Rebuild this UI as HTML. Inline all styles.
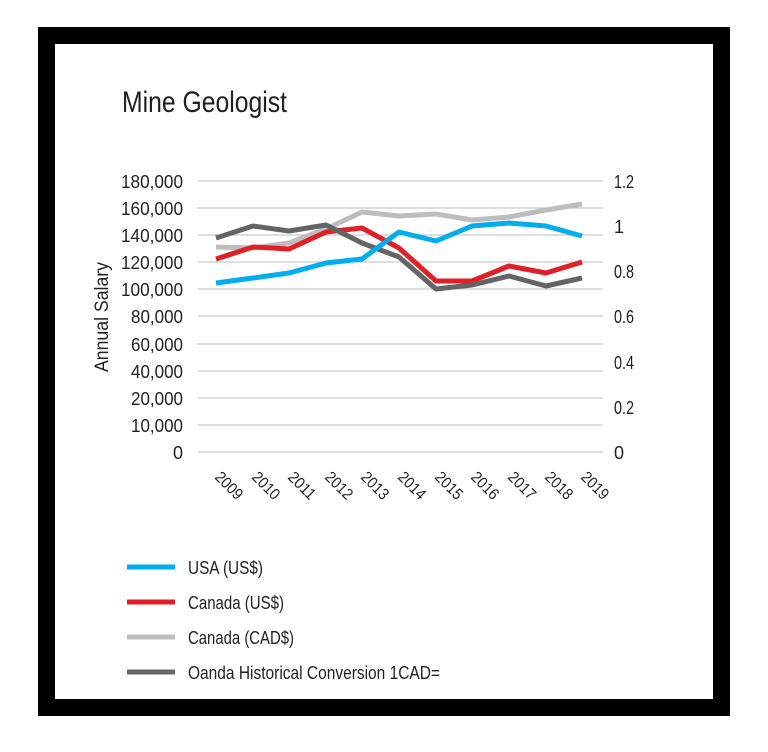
<!DOCTYPE html>
<html><head><meta charset="utf-8"><style>
html,body{margin:0;padding:0;background:#fff}
svg{display:block}
text{font-family:"Liberation Sans Narrow","Liberation Sans",sans-serif;fill:#231f20}
</style></head><body>
<svg width="768" height="752" viewBox="0 0 768 752">
<rect x="0" y="0" width="768" height="752" fill="#fff"/>
<rect x="38" y="27" width="692" height="689" fill="#000"/>
<rect x="55" y="44" width="658" height="655" fill="#fff"/>
<text x="122" y="112" font-size="30" font-weight="bold" textLength="165" lengthAdjust="spacingAndGlyphs" style="font-weight:500">Mine Geologist</text>
<g stroke="#bcbcbc" stroke-width="1">
<line x1="198" x2="603" y1="181" y2="181"/><line x1="198" x2="603" y1="208" y2="208"/>
<line x1="198" x2="603" y1="235" y2="235"/><line x1="198" x2="603" y1="262" y2="262"/>
<line x1="198" x2="603" y1="289" y2="289"/><line x1="198" x2="603" y1="316" y2="316"/>
<line x1="198" x2="603" y1="344" y2="344"/><line x1="198" x2="603" y1="371" y2="371"/>
<line x1="198" x2="603" y1="398" y2="398"/><line x1="198" x2="603" y1="425" y2="425"/>
<line x1="198" x2="603" y1="452" y2="452"/>
</g>
<g font-size="18" text-anchor="end">
<text x="183" y="188" textLength="62" lengthAdjust="spacingAndGlyphs">180,000</text>
<text x="183" y="215" textLength="62" lengthAdjust="spacingAndGlyphs">160,000</text>
<text x="183" y="242" textLength="62" lengthAdjust="spacingAndGlyphs">140,000</text>
<text x="183" y="269" textLength="62" lengthAdjust="spacingAndGlyphs">120,000</text>
<text x="183" y="296" textLength="62" lengthAdjust="spacingAndGlyphs">100,000</text>
<text x="183" y="323" textLength="52" lengthAdjust="spacingAndGlyphs">80,000</text>
<text x="183" y="351" textLength="52" lengthAdjust="spacingAndGlyphs">60,000</text>
<text x="183" y="378" textLength="52" lengthAdjust="spacingAndGlyphs">40,000</text>
<text x="183" y="405" textLength="52" lengthAdjust="spacingAndGlyphs">20,000</text>
<text x="183" y="432" textLength="52" lengthAdjust="spacingAndGlyphs">10,000</text>
<text x="183" y="459">0</text>
</g>
<g font-size="18">
<text x="614" y="188" textLength="20" lengthAdjust="spacingAndGlyphs">1.2</text><text x="614" y="233">1</text>
<text x="614" y="278" textLength="20" lengthAdjust="spacingAndGlyphs">0.8</text><text x="614" y="323" textLength="20" lengthAdjust="spacingAndGlyphs">0.6</text>
<text x="614" y="369" textLength="20" lengthAdjust="spacingAndGlyphs">0.4</text><text x="614" y="414" textLength="20" lengthAdjust="spacingAndGlyphs">0.2</text>
<text x="614" y="459">0</text>
</g>
<text transform="translate(108,317) rotate(-90)" font-size="19" text-anchor="middle" textLength="110" lengthAdjust="spacingAndGlyphs">Annual Salary</text>
<g font-size="16">
<text transform="translate(214,478) rotate(45)" textLength="32" lengthAdjust="spacingAndGlyphs">2009</text>
<text transform="translate(251,478) rotate(45)" textLength="32" lengthAdjust="spacingAndGlyphs">2010</text>
<text transform="translate(287,478) rotate(45)" textLength="32" lengthAdjust="spacingAndGlyphs">2011</text>
<text transform="translate(324,478) rotate(45)" textLength="32" lengthAdjust="spacingAndGlyphs">2012</text>
<text transform="translate(360,478) rotate(45)" textLength="32" lengthAdjust="spacingAndGlyphs">2013</text>
<text transform="translate(397,478) rotate(45)" textLength="32" lengthAdjust="spacingAndGlyphs">2014</text>
<text transform="translate(434,478) rotate(45)" textLength="32" lengthAdjust="spacingAndGlyphs">2015</text>
<text transform="translate(470,478) rotate(45)" textLength="32" lengthAdjust="spacingAndGlyphs">2016</text>
<text transform="translate(507,478) rotate(45)" textLength="32" lengthAdjust="spacingAndGlyphs">2017</text>
<text transform="translate(544,478) rotate(45)" textLength="32" lengthAdjust="spacingAndGlyphs">2018</text>
<text transform="translate(580,478) rotate(45)" textLength="32" lengthAdjust="spacingAndGlyphs">2019</text>
</g>
<g fill="none" stroke-width="5" stroke-linejoin="round" stroke-linecap="butt">
<polyline stroke="#bdbdbd" points="216,247 253,248 289,243 326,229 362,212 399,216 436,214 472,220 509,217 546,210 582,204"/>
<polyline stroke="#e01f26" points="216,259 253,247 289,249 326,232 362,228 399,248 436,281 472,281 509,266 546,273 582,262"/>
<polyline stroke="#636466" points="216,238 253,226 289,231 326,225 362,243 399,257 436,289 472,285 509,276 546,286 582,278"/>
<polyline stroke="#00aeef" points="216,283 253,278 289,273 326,263 362,259 399,232 436,241 472,226 509,223 546,226 582,236"/>
</g>
<g stroke-width="5">
<line x1="127" x2="175" y1="567" y2="567" stroke="#00aeef"/>
<line x1="127" x2="175" y1="602" y2="602" stroke="#e01f26"/>
<line x1="127" x2="175" y1="637" y2="637" stroke="#bdbdbd"/>
<line x1="127" x2="175" y1="672" y2="672" stroke="#636466"/>
</g>
<g font-size="18">
<text x="188" y="574" textLength="75" lengthAdjust="spacingAndGlyphs">USA (US$)</text>
<text x="188" y="609" textLength="96" lengthAdjust="spacingAndGlyphs">Canada (US$)</text>
<text x="188" y="644" textLength="106" lengthAdjust="spacingAndGlyphs">Canada (CAD$)</text>
<text x="188" y="679" textLength="252" lengthAdjust="spacingAndGlyphs">Oanda Historical Conversion 1CAD=</text>
</g>
</svg>
</body></html>
